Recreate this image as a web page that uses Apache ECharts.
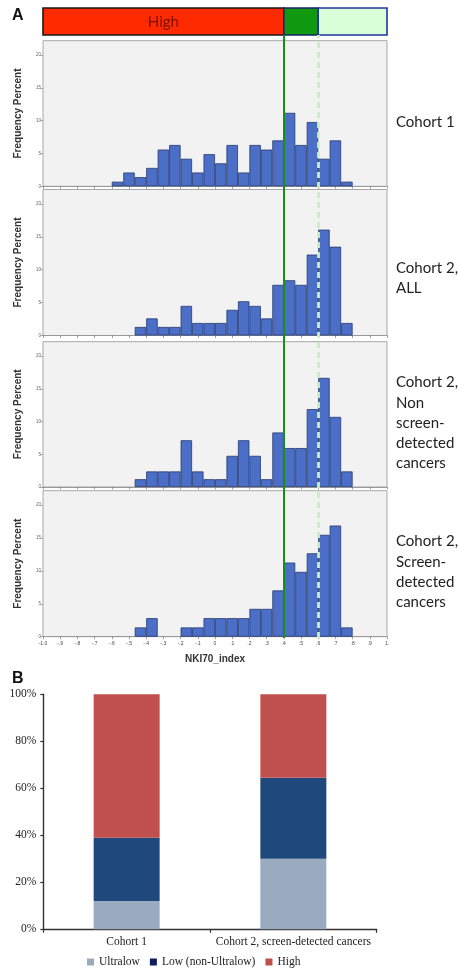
<!DOCTYPE html>
<html>
<head>
<meta charset="utf-8">
<script src="https://cdn.jsdelivr.net/npm/echarts@6/dist/echarts.min.js"></script>
<style>
html,body{margin:0;padding:0;background:#fff;}
#main{width:459px;height:971px;}
</style>
</head>
<body>
<div id="main"></div>
<script>
// ---------- Panel A data ----------
// 30 histogram bins of width 1/15 covering NKI70_index -1.0 .. 1.0
const binLabels = ['b0','b1','b2','b3','b4','b5','b6','b7','b8','b9','b10','b11','b12','b13','b14','b15','b16','b17','b18','b19','b20','b21','b22','b23','b24','b25','b26','b27','b28','b29'];
const cohort1 = [null,null,null,null,null,null,0.7,2.1,1.4,2.8,5.6,6.3,4.2,2.1,4.9,3.5,6.3,2.1,6.3,5.6,7.0,11.2,6.3,9.8,4.2,7.0,0.7,null,null,null];
const cohort2All = [null,null,null,null,null,null,null,null,1.3,2.6,1.3,1.3,4.5,1.9,1.9,1.9,3.9,5.2,4.5,2.6,7.7,8.4,7.7,12.3,16.1,13.5,1.9,null,null,null];
const cohort2Non = [null,null,null,null,null,null,null,null,1.19,2.38,2.38,2.38,7.14,2.38,1.19,1.19,4.76,7.14,4.76,1.19,8.33,5.95,5.95,11.9,16.67,10.71,2.38,null,null,null];
const cohort2Scr = [null,null,null,null,null,null,null,null,1.41,2.82,null,null,1.41,1.41,2.82,2.82,2.82,2.82,4.23,4.23,7.04,11.27,9.86,12.68,15.49,16.9,1.41,null,null,null];
const panelNames = ['Cohort 1', 'Cohort 2,\nALL', 'Cohort 2,\nNon\nscreen-\ndetected\ncancers', 'Cohort 2,\nScreen-\ndetected\ncancers'];
const yTicks = [0, 5, 10, 15, 20];
const cutHigh = 0.4;     // High / Low threshold
const cutUltra = 0.6;    // Low / Ultralow threshold
const bandStarts = [-1.0, 0.4, 0.6];
const bandEnds = [0.4, 0.6, 1.0];
const bandLabels = ['High', '', ''];

// ---------- Panel B data ----------
const groups = ['Cohort 1', 'Cohort 2, screen-detected cancers'];
const ultralow = [12, 30];
const lowNonUltra = [27, 34.5];
const high = [61, 35.5];

const chart = echarts.init(document.getElementById('main'), null, {renderer: 'canvas'});

const panelGrids = [
  {top: 40.7, height: 145.6},
  {top: 189.5, height: 146},
  {top: 341.7, height: 145.3},
  {top: 490.7, height: 146}
];
const panelData = [cohort1, cohort2All, cohort2Non, cohort2Scr];
const labelCenters = [121.7, 278, 423, 572];

const grid = [];
const xAxis = [];
const yAxis = [];
const series = [];

// grid 0: top band
grid.push({left: 43, top: 8, width: 346, height: 27, show: false});
xAxis.push({type: 'value', gridIndex: 0, min: -1, max: 1.0116, show: false});
yAxis.push({type: 'value', gridIndex: 0, min: 0, max: 1, show: false});
const bandFill = ['#ff2a00', '#119a11', '#d9ffd9'];
const bandStroke = ['#1a1a1a', '#14246a', '#2236a0'];
series.push({
  type: 'custom', xAxisIndex: 0, yAxisIndex: 0, silent: true,
  data: bandStarts.map((s, i) => [s, bandEnds[i], i]),
  renderItem: function (params, api) {
    const i = api.value(2);
    const p0 = api.coord([api.value(0), 1]);
    const p1 = api.coord([api.value(1), 0]);
    const children = [{
      type: 'rect',
      shape: {x: p0[0], y: p0[1], width: p1[0] - p0[0], height: p1[1] - p0[1]},
      style: {fill: bandFill[i], stroke: bandStroke[i], lineWidth: 1.6}
    }];
    if (bandLabels[i]) {
      children.push({
        type: 'text',
        style: {
          x: (p0[0] + p1[0]) / 2, y: (p0[1] + p1[1]) / 2 + 0.5,
          text: bandLabels[i], align: 'center', verticalAlign: 'middle',
          fill: '#7a1200', fontSize: 15, fontFamily: 'Lato'
        }
      });
    }
    return {type: 'group', children: children};
  }
});

// grids 1..4: histograms
panelGrids.forEach((g, k) => {
  const gi = k + 1;
  grid.push({left: 43, top: g.top, width: 344, height: g.height, show: true,
    backgroundColor: '#f2f2f2', borderColor: '#a8a8a8', borderWidth: 1});
  const last = k === 3;
  // category axis for bins (hidden)
  xAxis.push({type: 'category', gridIndex: gi, data: binLabels, show: false, position: 'top', boundaryGap: true});
  // value axis for ticks / labels
  xAxis.push({
    type: 'value', gridIndex: gi, min: -1, max: 1, interval: 0.1, position: 'bottom',
    axisLine: {show: true, onZero: false, lineStyle: {color: '#9a9a9a', width: 1}},
    axisTick: {show: true, length: 2.5, lineStyle: {color: '#666', width: 0.6}},
    splitLine: {show: false},
    axisLabel: {
      show: last, fontSize: 5, color: '#444', margin: 4, fontFamily: 'Liberation Sans',
      formatter: function (v) {
        const r = Math.round(v * 10) / 10;
        if (r === 0) return '0';
        if (r === -1) return '-1.0';
        if (r === 1) return '1.';
        const s = Math.abs(r).toFixed(1).replace(/^0/, '');
        return (r < 0 ? '-' : '') + s;
      }
    },
    name: last ? 'NKI70_index' : '', nameLocation: 'middle', nameGap: 18,
    nameTextStyle: {fontSize: 10, fontWeight: 'bold', color: '#333', fontFamily: 'Liberation Sans'}
  });
  yAxis.push({
    type: 'value', gridIndex: gi, min: 0, max: 22.2, position: 'left',
    axisLine: {show: false, onZero: false},
    axisTick: {show: true, length: 2.5, customValues: yTicks, lineStyle: {color: '#777', width: 0.6}},
    axisLabel: {show: true, customValues: yTicks, fontSize: 4.5, color: '#666', margin: 2, fontFamily: 'Liberation Sans'},
    splitLine: {show: false},
    name: 'Frequency Percent', nameLocation: 'middle', nameRotate: 90, nameGap: 20,
    nameTextStyle: {fontSize: 10, fontWeight: 'bold', color: '#333', fontFamily: 'Liberation Sans'}
  });
  series.push({
    type: 'bar', xAxisIndex: 1 + k * 2, yAxisIndex: gi, data: panelData[k],
    barWidth: '100%', barCategoryGap: '0%', silent: true,
    itemStyle: {color: '#4b6ec7', borderColor: '#27396f', borderWidth: 0.8}
  });
});

// grid 5: overlay for threshold lines
grid.push({left: 43, top: 35, width: 344, height: 603, show: false});
xAxis.push({type: 'value', gridIndex: 5, min: -1, max: 1, show: false});
yAxis.push({type: 'value', gridIndex: 5, min: 0, max: 1, show: false});
series.push({
  type: 'line', xAxisIndex: 9, yAxisIndex: 5, data: [], z: 20, silent: true,
  markLine: {
    silent: true, symbol: ['none', 'none'], label: {show: false}, animation: false,
    data: [
      {xAxis: cutUltra, lineStyle: {color: '#c9efc4', width: 2.8, type: [6, 4]}},
      {xAxis: cutHigh, lineStyle: {color: '#17901a', width: 2, type: 'solid'}}
    ]
  }
});

// grid 6: panel B stacked bars
grid.push({left: 43.3, top: 694.3, width: 333.4, height: 235, show: false});
xAxis.push({
  type: 'category', gridIndex: 6, data: groups,
  axisLine: {show: true, lineStyle: {color: '#333', width: 1.4}},
  axisTick: {show: true, length: 3.5, alignWithLabel: false, lineStyle: {color: '#333', width: 1.2}},
  axisLabel: {interval: 0, fontSize: 11.5, color: '#222', fontFamily: 'Liberation Serif', margin: 7}
});
yAxis.push({
  type: 'value', gridIndex: 6, min: 0, max: 100, interval: 20,
  axisLine: {show: true, lineStyle: {color: '#333', width: 1.4}},
  axisTick: {show: true, length: 3, lineStyle: {color: '#333', width: 1.2}},
  axisLabel: {formatter: '{value}%', fontSize: 11.5, color: '#222', fontFamily: 'Liberation Serif', margin: 7},
  splitLine: {show: false}
});
const bCols = {u: '#9aabbf', l: '#1f497d', h: '#c0504d'};
series.push({name: 'Ultralow', type: 'bar', stack: 'b', xAxisIndex: 10, yAxisIndex: 6, data: ultralow, barWidth: 66, itemStyle: {color: bCols.u}});
series.push({name: 'Low (non-Ultralow)', type: 'bar', stack: 'b', xAxisIndex: 10, yAxisIndex: 6, data: lowNonUltra, barWidth: 66, itemStyle: {color: bCols.l}});
series.push({name: 'High', type: 'bar', stack: 'b', xAxisIndex: 10, yAxisIndex: 6, data: high, barWidth: 66, itemStyle: {color: bCols.h}});

const graphic = [
  {type: 'text', left: 12, top: 8, style: {text: 'A', fontSize: 16, fontWeight: 'bold', fill: '#111', fontFamily: 'Liberation Sans'}},
  {type: 'text', left: 12, top: 671, style: {text: 'B', fontSize: 16, fontWeight: 'bold', fill: '#111', fontFamily: 'Liberation Sans'}}
];
panelNames.forEach((t, k) => {
  const lines = t.split('\n').length;
  const lh = 20.3;
  graphic.push({type: 'text', left: 396, top: labelCenters[k] - lines * lh / 2,
    style: {text: t, fontSize: 15, lineHeight: lh, fill: '#222', fontFamily: 'Lato'}});
});

chart.setOption({
  animation: false,
  grid: grid, xAxis: xAxis, yAxis: yAxis, series: series,
  legend: {
    data: [
      {name: 'Ultralow', itemStyle: {color: bCols.u}},
      {name: 'Low (non-Ultralow)', itemStyle: {color: '#0d1d5e'}},
      {name: 'High', itemStyle: {color: bCols.h}}
    ],
    left: 82, top: 951, icon: 'rect', itemWidth: 7, itemHeight: 7, itemGap: 10,
    textStyle: {fontSize: 11.5, color: '#222', fontFamily: 'Liberation Serif'},
    selectedMode: false
  },
  graphic: graphic
});
</script>
</body>
</html>
